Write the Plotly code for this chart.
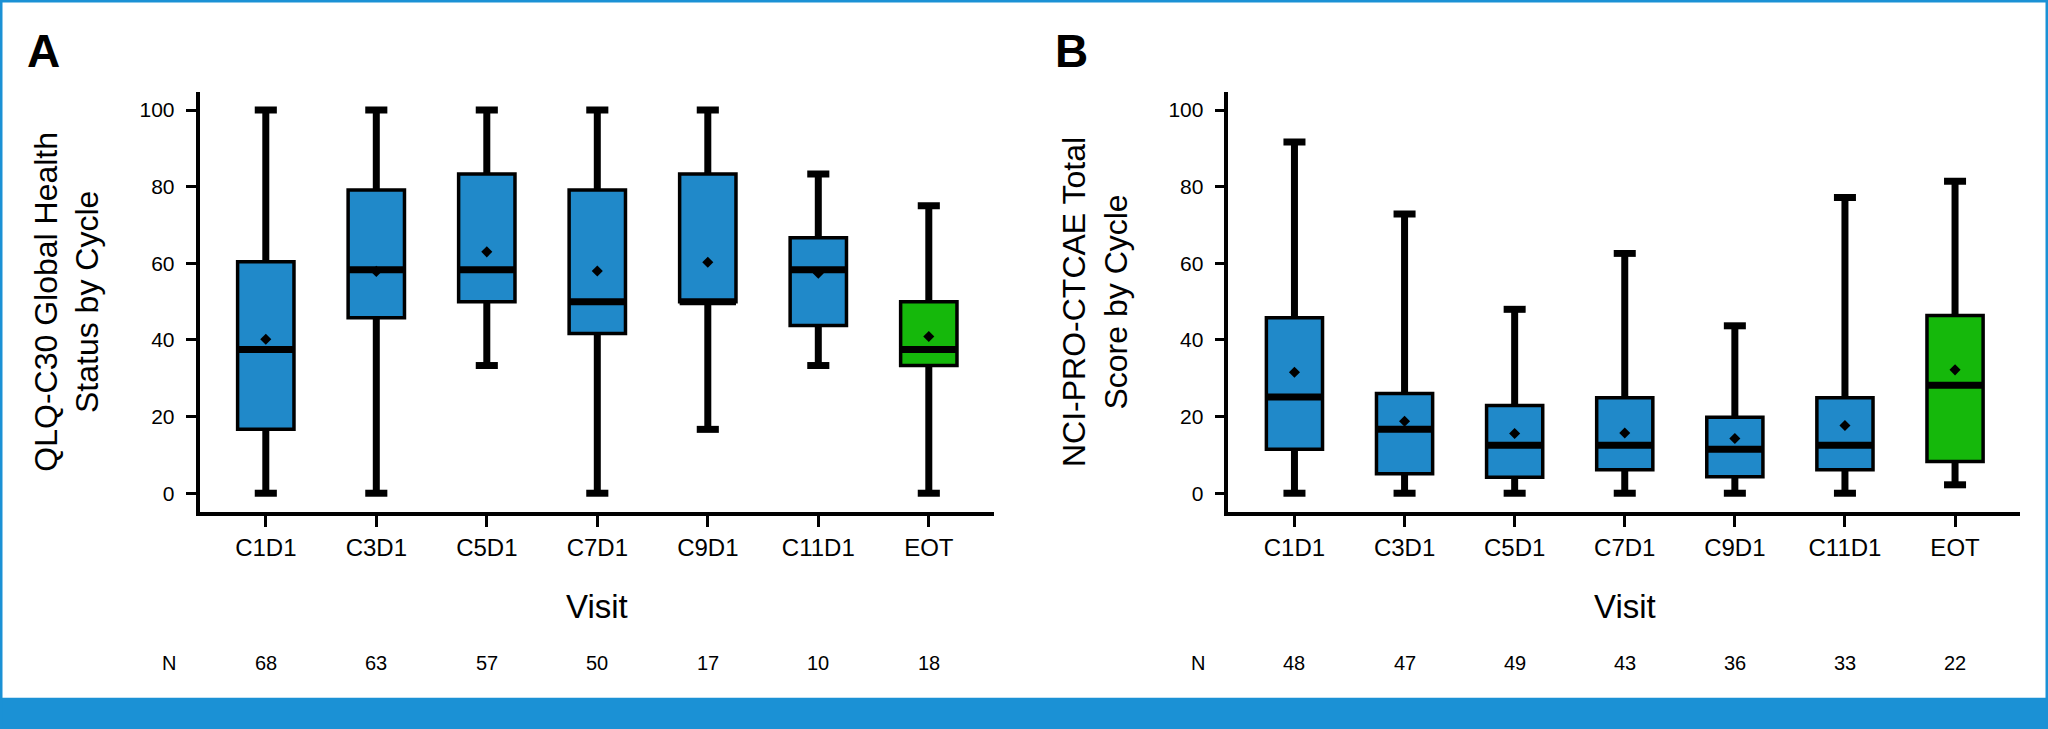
import plotly.graph_objects as go

# ---------------- data ----------------
visits = ["C1D1", "C3D1", "C5D1", "C7D1", "C9D1", "C11D1", "EOT"]

# Panel A: QLQ-C30 Global Health Status
ghs_low = [0, 0, 33.33, 0, 16.67, 33.33, 0]
ghs_q1 = [16.67, 45.83, 50, 41.67, 50, 43.75, 33.33]
ghs_median = [37.5, 58.33, 58.33, 50, 50, 58.33, 37.5]
ghs_q3 = [60.42, 79.17, 83.33, 79.17, 83.33, 66.67, 50]
ghs_high = [100, 100, 100, 100, 100, 83.33, 75]
ghs_mean = [40.2, 57.9, 63.0, 58.0, 60.3, 57.4, 40.9]
ghs_n = [68, 63, 57, 50, 17, 10, 18]

# Panel B: NCI-PRO-CTCAE total score
ctc_low = [0, 0, 0, 0, 0, 0, 2.2]
ctc_q1 = [11.5, 5.1, 4.2, 6.1, 4.3, 6.1, 8.3]
ctc_median = [25.1, 16.7, 12.5, 12.5, 11.5, 12.5, 28.2]
ctc_q3 = [45.8, 26.0, 22.9, 24.9, 19.8, 24.9, 46.4]
ctc_high = [91.7, 72.9, 48.0, 62.6, 43.7, 77.2, 81.4]
ctc_mean = [31.6, 18.8, 15.6, 15.7, 14.3, 17.7, 32.2]
ctc_n = [48, 47, 49, 43, 36, 33, 22]

y_ticks = [0, 20, 40, 60, 80, 100]

# ---------------- style ----------------
BLUE = "#2089C9"
GREEN = "#15B80B"
FRAME = "#1B91D5"
FONT = "Liberation Sans, Arial, sans-serif"
BOX_W = 0.51
CAP_HALF = 0.10
X_RANGE = [-0.6, 6.59]
W, H = 2048, 729
DOM_A = [199.5 / W, 994.0 / W]
DOM_B = [1228.4 / W, 2020.0 / W]

fig = go.Figure()


def add_panel(xref, yref, low, q1, med, q3, high, mean):
    pos = list(range(len(visits)))
    for i in pos:
        color = GREEN if visits[i] == "EOT" else BLUE
        fig.add_trace(go.Box(
            x=[i], q1=[q1[i]], median=[med[i]], q3=[q3[i]],
            lowerfence=[low[i]], upperfence=[high[i]],
            width=BOX_W, whiskerwidth=0, fillcolor=color,
            line=dict(color="black", width=3.5), boxpoints=False,
            xaxis=xref, yaxis=yref, showlegend=False, hoverinfo="skip"))
    wx, wy, cx, cy, mx, my = [], [], [], [], [], []
    for i in pos:
        wx += [i, i, None, i, i, None]
        wy += [q3[i], high[i], None, q1[i], low[i], None]
        cx += [i - CAP_HALF, i + CAP_HALF, None, i - CAP_HALF, i + CAP_HALF, None]
        cy += [high[i], high[i], None, low[i], low[i], None]
        mx += [i - BOX_W / 2, i + BOX_W / 2, None]
        my += [med[i], med[i], None]
    for xs, ys, w in ((wx, wy, 7), (cx, cy, 7), (mx, my, 7)):
        fig.add_trace(go.Scatter(x=xs, y=ys, mode="lines",
                                 line=dict(color="black", width=w),
                                 xaxis=xref, yaxis=yref, showlegend=False,
                                 hoverinfo="skip"))
    fig.add_trace(go.Scatter(x=pos, y=mean, mode="markers",
                             marker=dict(symbol="diamond", size=8.5, color="black"),
                             xaxis=xref, yaxis=yref, showlegend=False,
                             hoverinfo="skip"))


add_panel("x", "y", ghs_low, ghs_q1, ghs_median, ghs_q3, ghs_high, ghs_mean)
add_panel("x2", "y2", ctc_low, ctc_q1, ctc_median, ctc_q3, ctc_high, ctc_mean)

ydom = [1 - 512.0 / H, 1 - 91.7 / H]

xax = dict(range=X_RANGE, tickmode="array", tickvals=list(range(len(visits))),
           ticktext=visits, ticks="outside", ticklen=11, tickwidth=3,
           tickcolor="black", showline=True, linewidth=3.5, linecolor="black",
           showgrid=False, zeroline=False,
           tickfont=dict(family=FONT, size=24, color="black"))
yax = dict(range=[-4.9, 104.8], tickmode="array", tickvals=y_ticks,
           ticks="outside", ticklen=10, tickwidth=3, tickcolor="black",
           showline=True, linewidth=3.5, linecolor="black", showgrid=False,
           zeroline=False, domain=ydom, ticklabelstandoff=7,
           tickfont=dict(family=FONT, size=21, color="black"))

fig.update_layout(
    width=W, height=H, autosize=False,
    margin=dict(l=0, r=0, t=0, b=0),
    paper_bgcolor="white", plot_bgcolor="white",
    showlegend=False, boxmode="overlay",
    xaxis=dict(xax, domain=DOM_A, anchor="y"),
    yaxis=dict(yax, anchor="x"),
    xaxis2=dict(xax, domain=DOM_B, anchor="y2"),
    yaxis2=dict(yax, anchor="x2"),
)


def to_paper(dom, xval):
    return dom[0] + (xval - X_RANGE[0]) / (X_RANGE[1] - X_RANGE[0]) * (dom[1] - dom[0])


ann = []
# panel letters
for txt, px in (("A", 43.5), ("B", 1071.0)):
    ann.append(dict(text="<b>%s</b>" % txt, x=px / W, y=1 - 51.0 / H, xref="paper",
                    yref="paper", showarrow=False, xanchor="center", yanchor="middle",
                    font=dict(family=FONT, size=46, color="black")))
# y titles
for txt, px in (("QLQ-C30 Global Health<br>Status by Cycle", 66.7),
                ("NCI-PRO-CTCAE Total<br>Score by Cycle", 1095.0)):
    ann.append(dict(text=txt, x=px / W, y=1 - 302.0 / H, xref="paper", yref="paper",
                    textangle=-90, showarrow=False, xanchor="center", yanchor="middle",
                    font=dict(family=FONT, size=32, color="black")))
# x titles and N rows
for xr, dom, ns in (("x", DOM_A, ghs_n), ("x2", DOM_B, ctc_n)):
    ann.append(dict(text="Visit", x=3, y=1 - 606.0 / H, xref=xr, yref="paper",
                    showarrow=False, xanchor="center", yanchor="middle",
                    font=dict(family=FONT, size=33, color="black")))
    ann.append(dict(text="N", x=to_paper(dom, -0.88), y=1 - 662.5 / H, xref="paper",
                    yref="paper", showarrow=False, xanchor="center", yanchor="middle",
                    font=dict(family=FONT, size=20, color="black")))
    for i, n in enumerate(ns):
        ann.append(dict(text=str(n), x=i, y=1 - 662.5 / H, xref=xr, yref="paper",
                        showarrow=False, xanchor="center", yanchor="middle",
                        font=dict(family=FONT, size=20, color="black")))
fig.update_layout(annotations=ann)

# frame and bottom band (decoration)
fig.update_layout(shapes=[
    dict(type="rect", xref="paper", yref="paper", x0=0, x1=1, y0=0,
         y1=(H - 697.7) / H, fillcolor=FRAME, line=dict(width=0), layer="below"),
    dict(type="rect", xref="paper", yref="paper", x0=0, x1=1, y0=0, y1=1,
         line=dict(color=FRAME, width=5), fillcolor="rgba(0,0,0,0)", layer="above"),
])

fig.write_html("out.html", include_plotlyjs=True, config={"displayModeBar": False},
               post_script="document.body.style.margin='0';document.body.style.overflow='hidden';")
